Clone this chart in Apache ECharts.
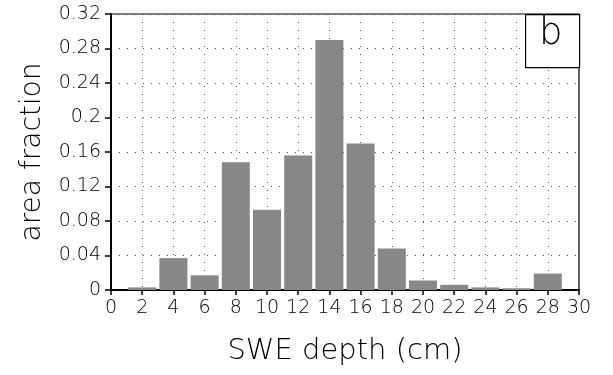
<!DOCTYPE html>
<html>
<head>
<meta charset="utf-8">
<script src="https://cdn.jsdelivr.net/npm/echarts@6/dist/echarts.min.js"></script>
<style>html,body{margin:0;padding:0;background:#fff}#c{width:613px;height:375px}</style>
</head>
<body>
<div id="c"></div>
<script>
var depths = [2, 4, 6, 8, 10, 12, 14, 16, 18, 20, 22, 24, 26, 28];
var fractions = [0.003, 0.037, 0.017, 0.148, 0.093, 0.156, 0.290, 0.170, 0.048, 0.011, 0.006, 0.003, 0.002, 0.019];
var xTicks = [0, 2, 4, 6, 8, 10, 12, 14, 16, 18, 20, 22, 24, 26, 28, 30];
var yTicks = [0, 0.04, 0.08, 0.12, 0.16, 0.2, 0.24, 0.28, 0.32];
var panelLabel = 'b';
var xTitle = 'SWE depth (cm)';
var yTitle = 'area fraction';

var FONT = 'DejaVu Sans';
var chart = echarts.init(document.getElementById('c'), null, {renderer: 'canvas'});
var data = depths.map(function (d, i) { return [d, fractions[i]]; });
chart.setOption({
  animation: false,
  backgroundColor: '#fff',
  grid: {left: 111, right: 34, top: 14, bottom: 85, show: true, borderColor: '#000', borderWidth: 1.2, backgroundColor: 'transparent'},
  xAxis: {
    type: 'value', min: xTicks[0], max: xTicks[xTicks.length - 1], interval: 2,
    name: xTitle, nameLocation: 'middle', nameGap: 47,
    nameTextStyle: {fontFamily: FONT, fontWeight: 200, fontSize: 29, color: '#000'},
    axisLine: {lineStyle: {color: '#000', width: 2}},
    axisTick: {show: true, length: 5, lineStyle: {color: '#000', width: 1.5}},
    axisLabel: {fontFamily: FONT, fontWeight: 200, fontSize: 19, color: '#000', margin: 9},
    splitLine: {show: true, lineStyle: {type: [1, 7], color: '#555', width: 1}}
  },
  yAxis: {
    type: 'value', min: yTicks[0], max: yTicks[yTicks.length - 1], interval: 0.04,
    name: yTitle, nameLocation: 'middle', nameGap: 64,
    nameTextStyle: {fontFamily: FONT, fontWeight: 200, fontSize: 28, color: '#000'},
    axisLine: {show: true, lineStyle: {color: '#000', width: 2}},
    axisTick: {show: true, length: 6, lineStyle: {color: '#000', width: 1.5}},
    axisLabel: {fontFamily: FONT, fontWeight: 200, fontSize: 19, color: '#000', margin: 10,
      formatter: function (v) { return String(parseFloat(v.toFixed(2))); }},
    splitLine: {show: true, lineStyle: {type: [1, 7], color: '#555', width: 1}}
  },
  graphic: [
    {type: 'rect', left: 525, top: 14, shape: {width: 54, height: 53}, style: {fill: '#fff', stroke: '#000', lineWidth: 1.2}, z: 100},
    {type: 'text', left: 539, top: 16, style: {text: panelLabel, font: '200 37px "DejaVu Sans"', fill: '#000'}, z: 101}
  ],
  series: [{
    type: 'bar', data: data, barWidth: 28,
    itemStyle: {color: '#878787'}
  }]
});
</script>
</body>
</html>
